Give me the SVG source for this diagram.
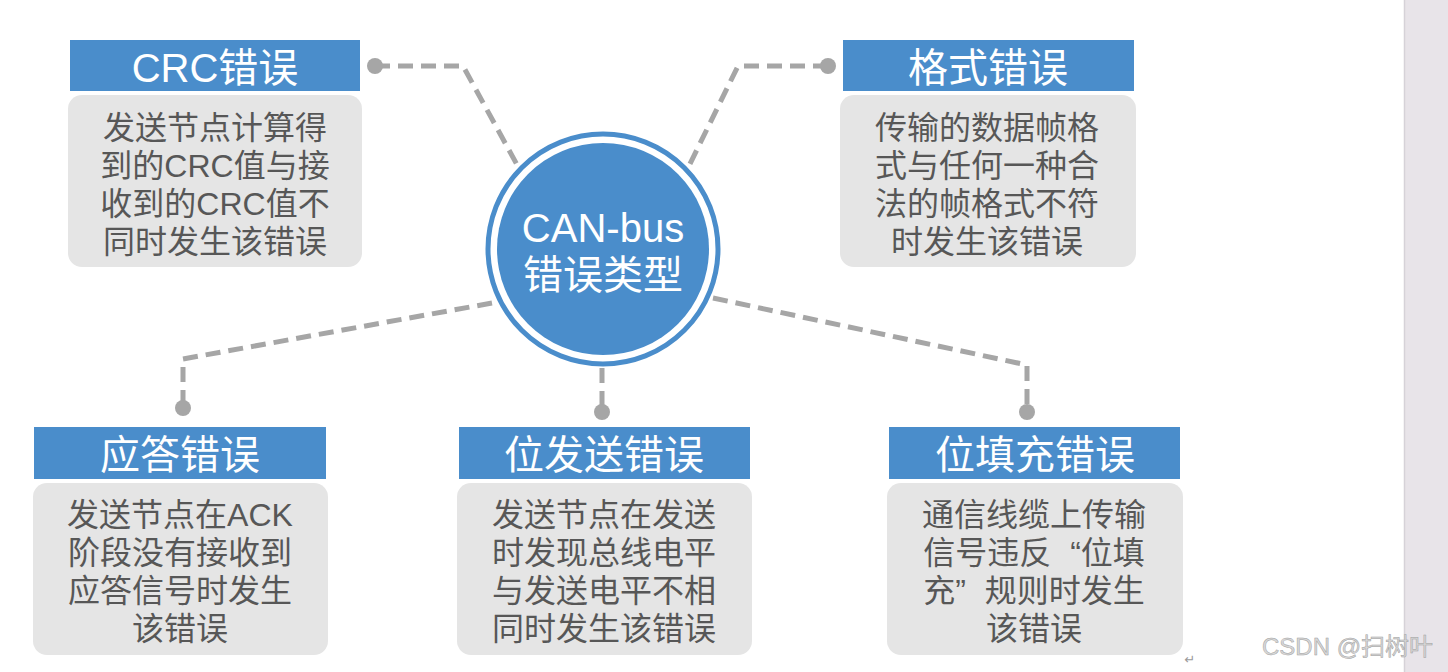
<svg xmlns="http://www.w3.org/2000/svg" width="1448" height="672" viewBox="0 0 1448 672">
  <defs>
    <style>
      .hdr { fill: #4a8dcb; }
      .body { fill: #e5e5e5; }
      .ht { font-family: "Liberation Sans", "Noto Sans CJK SC", sans-serif; font-size: 40px; fill: #ffffff; text-anchor: middle; }
      .bt { font-family: "Liberation Sans", "Noto Sans CJK SC", sans-serif; font-size: 32px; fill: #575757; text-anchor: middle; }
      .conn { fill: none; stroke: #a6a6a6; stroke-width: 5; stroke-dasharray: 15 8; }
      .dot { fill: #a6a6a6; }
    </style>
  </defs>
  <rect x="0" y="0" width="1448" height="672" fill="#ffffff"/>
  <rect x="1404" y="0" width="44" height="672" fill="#e8e4e9"/>
  <line x1="1404.5" y1="0" x2="1404.5" y2="672" stroke="#d6d2d8" stroke-width="1.5"/>

  <g id="connectors">
    <path class="conn" d="M375 66 H463 L521 172"/>
    <circle class="dot" cx="375" cy="66" r="8"/>
    <path class="conn" d="M828 66 H738 L686 172"/>
    <circle class="dot" cx="828" cy="66" r="8"/>
    <path class="conn" d="M492 303 L183 359 V407"/>
    <circle class="dot" cx="183" cy="408" r="8"/>
    <path class="conn" d="M602 368 V411"/>
    <circle class="dot" cx="602" cy="412" r="8"/>
    <path class="conn" d="M713 298 L1027 365 V411"/>
    <circle class="dot" cx="1027" cy="412" r="8"/>
  </g>

  <g id="center">
    <circle cx="603" cy="249" r="115" fill="#ffffff" stroke="#4a8dcb" stroke-width="5"/>
    <circle cx="603" cy="249" r="106" fill="#4a8dcb"/>
    <text class="ht" x="603" y="242">CAN-bus</text>
    <text class="ht" x="603" y="289">错误类型</text>
  </g>

  <g id="crc">
    <rect class="hdr" x="70" y="40" width="290" height="51"/>
    <text class="ht" x="215" y="82">CRC错误</text>
    <rect class="body" x="68" y="95" width="294" height="172" rx="14"/>
    <text class="bt" x="215" y="139">发送节点计算得</text>
    <text class="bt" x="215" y="177">到的CRC值与接</text>
    <text class="bt" x="215" y="215">收到的CRC值不</text>
    <text class="bt" x="215" y="253">同时发生该错误</text>
  </g>

  <g id="format">
    <rect class="hdr" x="843" y="40" width="291" height="51"/>
    <text class="ht" x="988" y="82">格式错误</text>
    <rect class="body" x="840" y="95" width="296" height="172" rx="14"/>
    <text class="bt" x="987" y="139">传输的数据帧格</text>
    <text class="bt" x="987" y="177">式与任何一种合</text>
    <text class="bt" x="987" y="215">法的帧格式不符</text>
    <text class="bt" x="987" y="253">时发生该错误</text>
  </g>

  <g id="ack">
    <rect class="hdr" x="34" y="427" width="292" height="52"/>
    <text class="ht" x="180" y="469">应答错误</text>
    <rect class="body" x="33" y="483" width="295" height="172" rx="14"/>
    <text class="bt" x="180" y="526">发送节点在ACK</text>
    <text class="bt" x="180" y="564">阶段没有接收到</text>
    <text class="bt" x="180" y="602">应答信号时发生</text>
    <text class="bt" x="180" y="640">该错误</text>
  </g>

  <g id="bit">
    <rect class="hdr" x="459" y="427" width="291" height="52"/>
    <text class="ht" x="604" y="469">位发送错误</text>
    <rect class="body" x="457" y="483" width="295" height="172" rx="14"/>
    <text class="bt" x="604" y="526">发送节点在发送</text>
    <text class="bt" x="604" y="564">时发现总线电平</text>
    <text class="bt" x="604" y="602">与发送电平不相</text>
    <text class="bt" x="604" y="640">同时发生该错误</text>
  </g>

  <g id="stuff">
    <rect class="hdr" x="889" y="427" width="291" height="52"/>
    <text class="ht" x="1035" y="469">位填充错误</text>
    <rect class="body" x="887" y="483" width="296" height="172" rx="14"/>
    <text class="bt" x="1034" y="526">通信线缆上传输</text>
    <text class="bt" x="1034" y="564">信号违反<tspan dx="19">“</tspan>位填</text>
    <text class="bt" x="1034" y="602">充”<tspan dx="19">规</tspan>则时发生</text>
    <text class="bt" x="1034" y="640">该错误</text>
  </g>

  <text x="1190" y="664" font-family="DejaVu Sans, sans-serif" font-size="13" fill="#9a9a9a" text-anchor="middle">↵</text>
  <text x="1262" y="655" font-family="Liberation Sans, Noto Sans CJK SC, sans-serif" font-size="24" fill="#d8d8d8" stroke="#a0a0a0" stroke-width="0.5">CSDN @扫树叶</text>
</svg>
